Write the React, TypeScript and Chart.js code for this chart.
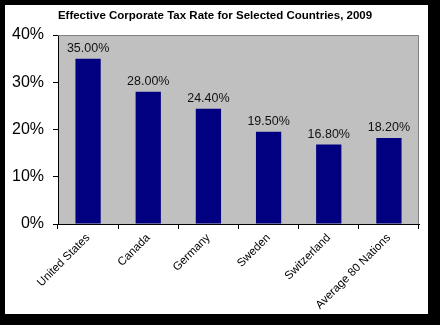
import { useEffect, useRef } from "react";
import { Chart, registerables } from "chart.js";

Chart.register(...registerables);

const title = "Effective Corporate Tax Rate for Selected Countries, 2009";
const categories = ["United States", "Canada", "Germany", "Sweden", "Switzerland", "Average 80 Nations"];
const taxRates = [35.0, 28.0, 24.4, 19.5, 16.8, 18.2];
const yMin = 0;
const yMax = 40;
const yStep = 10;

const FONT = "'Liberation Sans', Arial, sans-serif";

const framePlugin = {
  id: "frame",
  beforeDraw(chart: any) {
    const { ctx, width, height, chartArea } = chart;
    ctx.save();
    ctx.fillStyle = "#000";
    ctx.fillRect(0, 0, width, height);
    ctx.fillStyle = "#fff";
    ctx.fillRect(5, 5, 423, 309);
    ctx.fillStyle = "#C0C0C0";
    ctx.fillRect(chartArea.left, chartArea.top, chartArea.right - chartArea.left, chartArea.bottom - chartArea.top);
    ctx.fillStyle = "#000";
    ctx.font = `bold 11.5px ${FONT}`;
    ctx.textAlign = "center";
    ctx.textBaseline = "middle";
    ctx.fillText(title, 215, 16);
    ctx.restore();
  },
  afterDatasetsDraw(chart: any) {
    const { ctx } = chart;
    const meta = chart.getDatasetMeta(0);
    ctx.save();
    ctx.fillStyle = "#111";
    ctx.font = `12.5px ${FONT}`;
    ctx.textAlign = "center";
    ctx.textBaseline = "alphabetic";
    meta.data.forEach((el: any, i: number) => {
      ctx.fillText(taxRates[i].toFixed(2) + "%", el.x, el.y - 7);
    });
    ctx.restore();
  },
  afterDraw(chart: any) {
    const { ctx, chartArea } = chart;
    ctx.save();
    ctx.strokeStyle = "#808080";
    ctx.lineWidth = 1;
    ctx.beginPath();
    ctx.moveTo(chartArea.left, chartArea.top + 0.5);
    ctx.lineTo(chartArea.right - 0.5, chartArea.top + 0.5);
    ctx.lineTo(chartArea.right - 0.5, chartArea.bottom);
    ctx.stroke();
    ctx.restore();
  },
};

export default function App() {
  const ref = useRef<HTMLCanvasElement | null>(null);
  useEffect(() => {
    document.body.style.margin = "0";
    const canvas = ref.current!;
    const chart = new Chart(canvas, {
      type: "bar",
      data: {
        labels: categories,
        datasets: [
          {
            data: taxRates,
            backgroundColor: "#000080",
            borderWidth: 0,
            barPercentage: 0.42,
            categoryPercentage: 1,
          },
        ],
      },
      options: {
        animation: false,
        responsive: false,
        devicePixelRatio: 1,
        layout: { padding: { left: 0, top: 35, right: 21, bottom: 0 } },
        plugins: { legend: { display: false }, tooltip: { enabled: false }, title: { display: false } },
        scales: {
          x: {
            grid: { offset: true, drawOnChartArea: false, drawTicks: true, tickLength: 5, color: "#000" },
            border: { display: true, color: "#000" },
            ticks: {
              minRotation: 45,
              maxRotation: 45,
              autoSkip: false,
              color: "#000",
              padding: 2,
              font: { family: FONT, size: 11.5 },
            },
            afterFit(scale: any) {
              scale.height = 101;
            },
          },
          y: {
            min: yMin,
            max: yMax,
            grid: { drawOnChartArea: false, drawTicks: true, tickLength: 5, color: "#000" },
            border: { display: true, color: "#000" },
            ticks: {
              stepSize: yStep,
              color: "#000",
              padding: 9,
              font: { family: FONT, size: 16 },
              callback: (v: any) => v + "%",
            },
            afterFit(scale: any) {
              scale.width = 58;
            },
          },
        },
      },
      plugins: [framePlugin],
    });
    return () => chart.destroy();
  }, []);
  return <canvas ref={ref} width={440} height={325} style={{ display: "block", width: 440, height: 325 }} />;
}
